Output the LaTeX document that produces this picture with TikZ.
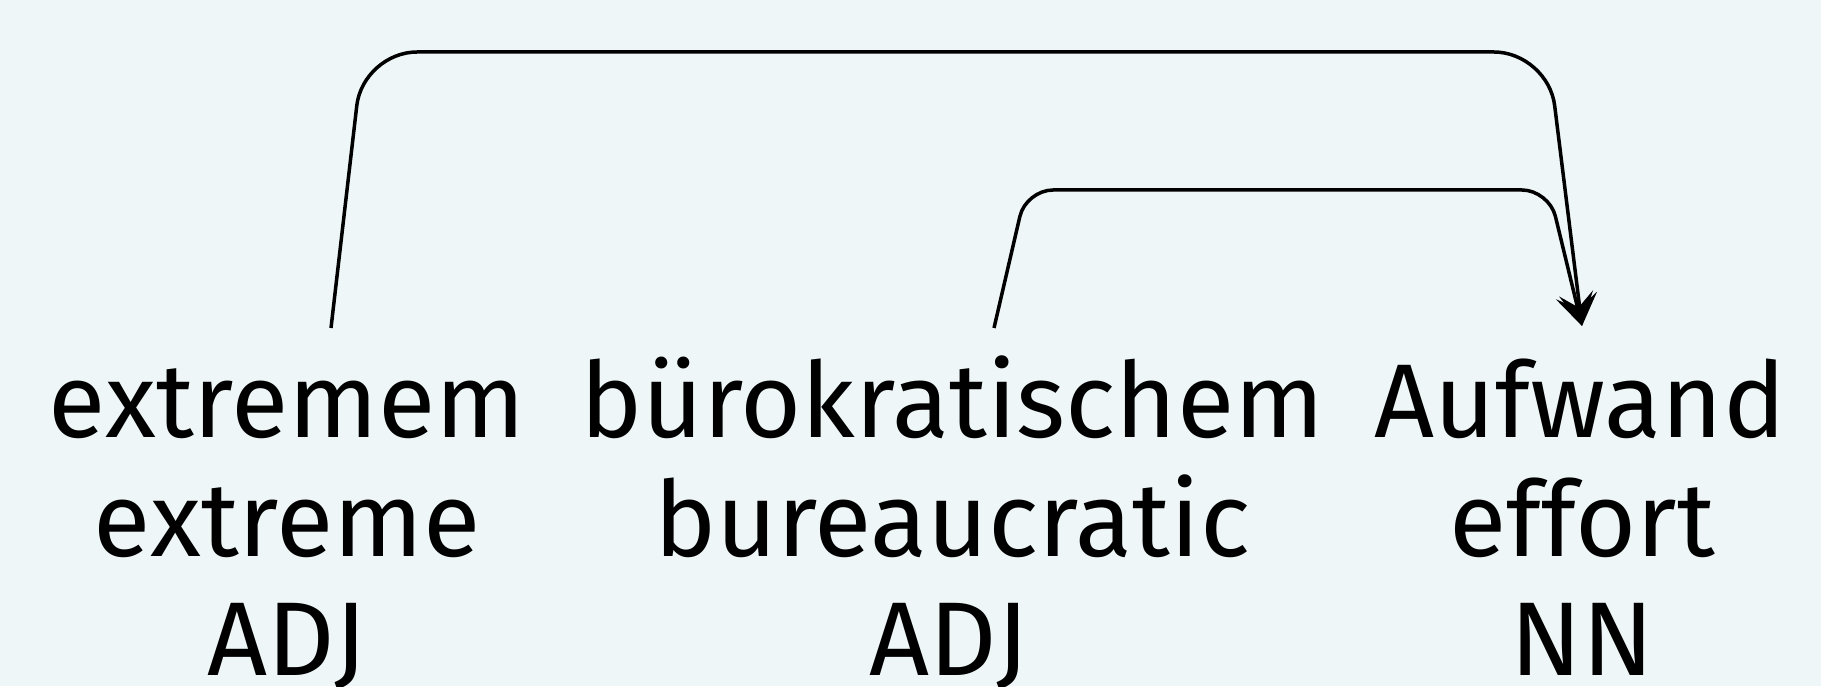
\documentclass[tikz,border=0pt]{standalone}
\usepackage{fontspec}
\setmainfont{Fira Sans}
\usetikzlibrary{arrows.meta}
\definecolor{paper}{HTML}{EEF6F8}

\begin{document}
\begin{tikzpicture}[
  x=0.5pt, y=0.5pt,
  font=\fontsize{52.4}{58}\selectfont,
  tok/.style={anchor=base, inner sep=0pt},
  arc/.style={-{Stealth[length=16pt, width=19pt, inset=7pt]}, line width=1.75pt}
]
\fill[paper] (0,0) rectangle (1821,686);
\useasboundingbox (0,0) rectangle (1821,686);
% words
\node[tok] (w1) at (287,248) {extremem};
\node[tok] (w2) at (952,248) {bürokratischem};
\node[tok] (w3) at (1580,248) {Aufwand};
% glosses
\node[tok] (g1) at (287,130) {extreme};
\node[tok] (g2) at (952,130) {bureaucratic};
\node[tok] (g3) at (1582,130) {effort};
% tags
\node[tok] (t1) at (287,11) {ADJ};
\node[tok] (t2) at (949,11) {ADJ};
\node[tok] (t3) at (1582,11) {NN};
% arcs
\draw[arc, rounded corners=27pt] ([xshift=22pt,yshift=55pt]w1.base) -- ++(16pt,138pt)
  -- ([xshift=-16pt,yshift=193pt]w3.base) -- ([xshift=1pt,yshift=56pt]w3.base);
\draw[arc, rounded corners=13.5pt] ([xshift=21pt,yshift=55pt]w2.base) -- ++(16pt,69pt)
  -- ([xshift=-15.5pt,yshift=124pt]w3.base) -- ([xshift=1pt,yshift=56pt]w3.base);
\end{tikzpicture}
\end{document}
